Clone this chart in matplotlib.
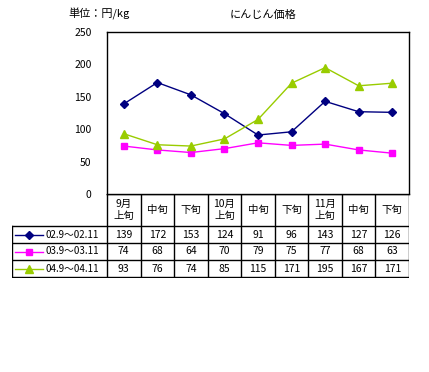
import matplotlib
matplotlib.use("Agg")
import matplotlib.pyplot as plt

plt.rcParams['font.family'] = ['Noto Sans CJK JP', 'DejaVu Sans']

periods = ["9月\n上旬", "中旬", "下旬", "10月\n上旬", "中旬", "下旬", "11月\n上旬", "中旬", "下旬"]
series_names = ["02.9～02.11", "03.9～03.11", "04.9～04.11"]
s1 = [139, 172, 153, 124, 91, 96, 143, 127, 126]
s2 = [74, 68, 64, 70, 79, 75, 77, 68, 63]
s3 = [93, 76, 74, 85, 115, 171, 195, 167, 171]
colors = ["#000080", "#FF00FF", "#99CC00"]
markers = ["D", "s", "^"]
msizes = [4, 5, 6]
yticks = [0, 50, 100, 150, 200, 250]

W, H = 429, 372
fig = plt.figure(figsize=(W / 100, H / 100), dpi=100)


def px_axes(x0, y0, x1, y1):
    return fig.add_axes([x0 / W, 1 - y1 / H, (x1 - x0) / W, (y1 - y0) / H])


# chart
ax = px_axes(107, 32, 409, 194)
xs = list(range(len(periods)))
for vals, c, m, ms in zip([s1, s2, s3], colors, markers, msizes):
    ax.plot(xs, vals, color=c, marker=m, markersize=ms, linewidth=1)
ax.set_xlim(-0.5, len(periods) - 0.5)
ax.set_ylim(0, 250)
ax.set_xticks([])
ax.set_yticks(yticks)
ax.tick_params(axis='y', length=0, labelsize=7.5, pad=11)
for s in ax.spines.values():
    s.set_linewidth(1)

fig.text(68 / W, 1 - 14 / H, "単位：円/kg", fontsize=8, va='center')
fig.text(263 / W, 1 - 15 / H, "にんじん価格", fontsize=8, va='center', ha='center')

# table
col_w = (409 - 107) / len(periods)
tx = px_axes(12, 194, 409, 278)
left = -0.5 - (107 - 12) / col_w
tx.set_xlim(left, len(periods) - 0.5)
tx.set_ylim(84, 0)
tx.axis('off')
lw = 1
row_y = [0, 32, 49, 66, 83]
for i in range(len(periods) + 1):
    tx.plot([i - 0.5, i - 0.5], [0, 83], color='k', lw=lw)
tx.plot([left, left], [32, 83], color='k', lw=lw)
tx.plot([-0.5, len(periods) - 0.5], [0, 0], color='k', lw=lw)
for y in row_y[1:]:
    tx.plot([left, len(periods) - 0.5], [y, y], color='k', lw=lw)
for i, p in enumerate(periods):
    tx.text(i, 16, p, ha='center', va='center', fontsize=7.5, linespacing=1.3)
for r, (name, vals, c, m, ms) in enumerate(zip(series_names, [s1, s2, s3], colors, markers, msizes)):
    yc = (row_y[r + 1] + row_y[r + 2]) / 2
    x0 = left + 3 / col_w
    x1 = left + 31 / col_w
    tx.plot([x0, x1], [yc, yc], color=c, lw=1)
    tx.plot([(x0 + x1) / 2], [yc], color=c, marker=m, markersize=ms)
    tx.text(left + 33 / col_w, yc, name, ha='left', va='center', fontsize=7)
    for i, v in enumerate(vals):
        tx.text(i, yc, str(v), ha='center', va='center', fontsize=7.5)

fig.savefig("out.png", dpi=100)
